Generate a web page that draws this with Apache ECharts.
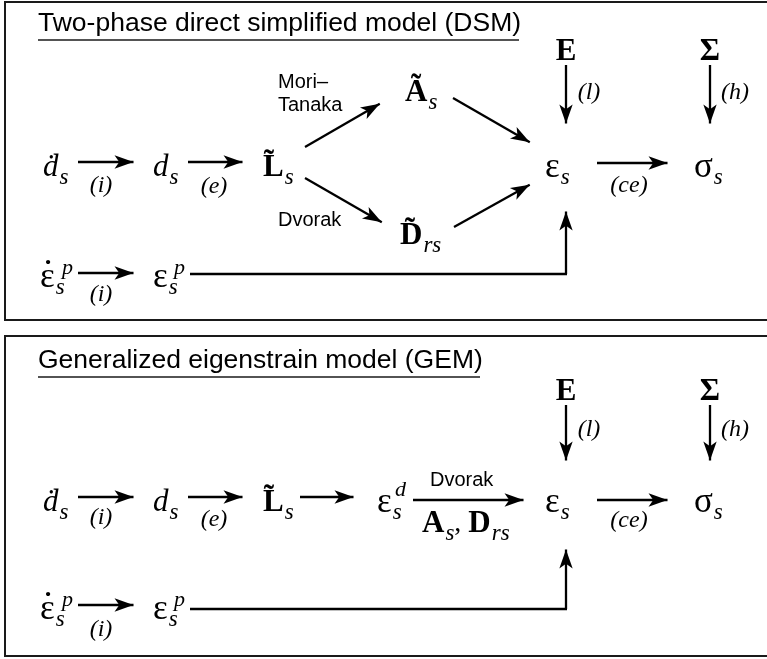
<!DOCTYPE html>
<html><head><meta charset="utf-8">
<script src="https://cdn.jsdelivr.net/npm/echarts@6/dist/echarts.min.js"></script>
<style>html,body{margin:0;padding:0;background:#fff}#c{width:767px;height:659px}</style>
</head><body><div id="c"></div>
<script>
// ---------------- data ----------------
const panelTitles = ['Two-phase direct simplified model (DSM)', 'Generalized eigenstrain model (GEM)'];
const titleX = [38, 38];
const titleY = [24, 361];

// math symbols (left-anchored)
const symText = [
  '{it|ḋ}{sub|s}', '{it|d}{sub|s}', '{bf|L̃}{sub|s}', '{bf|Ã}{sub|s}', '{bf|D̃}{sub|rs}',
  '{gr|ε}{sub|s}', '{gr|σ}{sub|s}', '{gr|ε}{sub|s}', '{gr|ε}{sub|s}',
  '{it|ḋ}{sub|s}', '{it|d}{sub|s}', '{bf|L̃}{sub|s}', '{gr|ε}{sub|s}',
  '{gr|ε}{sub|s}', '{gr|σ}{sub|s}', '{gr|ε}{sub|s}', '{gr|ε}{sub|s}',
  '{bf|A}{sub|s}{rm|, }{bf|D}{sub|rs}'
];
const symX = [43, 153, 263, 405, 400, 545, 694, 40, 153, 43, 153, 263, 377, 545, 694, 40, 153, 422];
const symY = [168, 168, 168, 93, 236, 168, 168, 278, 278, 503, 503, 503, 503, 503, 503, 610, 610, 524];

// superscripts
const supText = ['p', 'p', 'd', 'p', 'p'];
const supX = [62, 174, 395, 62, 174];
const supY = [268, 268, 490, 600, 600];

// time-derivative dots over epsilon
const dotText = ['·', '·'];
const dotX = [48, 48];
const dotY = [263, 595];

// centred bold symbols
const topSymText = ['E', 'Σ', 'E', 'Σ'];
const topSymX = [566, 710, 566, 710];
const topSymY = [52, 52, 392, 392];

// edge labels (centred)
const edgeText = ['(i)', '(e)', '(ce)', '(l)', '(h)', '(i)', '(i)', '(e)', '(ce)', '(l)', '(h)', '(i)'];
const edgeX = [101, 214, 629, 589, 735, 101, 101, 214, 629, 589, 735, 101];
const edgeY = [186, 187, 186, 93, 93, 295, 518, 520, 521, 430, 430, 630];

// method names (left-anchored, sans)
const methodText = ['Mori–\nTanaka', 'Dvorak', 'Dvorak'];
const methodX = [278, 278, 430];
const methodY = [94, 220, 480];

// arrows: [from, tip]
const arrows = [
  [[78,162],[143,162]], [[188,162],[252,162]], [[305,147],[388,99]], [[305,178],[390,227]],
  [[453,98],[538,147]], [[454,227],[538,180]], [[597,163],[677,163]], [[566,65],[566,133]],
  [[710,65],[710,133]], [[78,273],[143,273]], [[566,274],[566,202]],
  [[78,497],[143,497]], [[188,497],[252,497]], [[300,497],[363,497]], [[413,500],[533,500]],
  [[597,500],[677,500]], [[566,405],[566,470]], [[710,405],[710,470]], [[78,605],[143,605]],
  [[566,609],[566,540]]
];
// plain connector lines
const connectors = [
  [[190,274],[567,274]], [[190,609],[567,609]]
];
// frames and underlines
const frames = [
  [[770,2],[5,2],[5,320],[770,320]],
  [[770,336],[5,336],[5,656],[770,656]]
];
const underlines = [
  [[38,40],[519,40]], [[38,377],[480,377]]
];

// ---------------- styles ----------------
const serif = "'Liberation Serif','DejaVu Serif','Times New Roman',serif";
const sans = "'Liberation Sans',Arial,Helvetica,sans-serif";
const ink = '#000';
const rich = {
  it: {fontFamily: serif, fontStyle: 'italic', fontSize: 31, color: ink},
  gr: {fontFamily: serif, fontSize: 35, color: ink},
  bf: {fontFamily: serif, fontWeight: 'bold', fontSize: 31, color: ink},
  rm: {fontFamily: serif, fontSize: 28, color: ink},
  sub: {fontFamily: serif, fontStyle: 'italic', fontSize: 23, padding: [20, 0, 0, 1], color: ink}
};
const HEAD = [10, 19];

function pullBack(a, b, d) {
  const dx = b[0] - a[0], dy = b[1] - a[1];
  const L = Math.sqrt(dx * dx + dy * dy);
  return [b[0] - dx / L * d, b[1] - dy / L * d];
}

function labelSeries(texts, xs, ys, align, labelStyle) {
  return {
    type: 'scatter', symbolSize: 0, silent: true, z: 10, animation: false,
    itemStyle: {color: 'transparent', opacity: 1},
    data: texts.map((t, i) => ({value: [xs[i], ys[i]], label: {formatter: t}})),
    label: Object.assign({show: true, position: 'inside', align: align, verticalAlign: 'middle',
      color: ink, opacity: 1, textBorderWidth: 0}, labelStyle)
  };
}

const chart = echarts.init(document.getElementById('c'), null, {renderer: 'canvas'});
chart.setOption({
  backgroundColor: '#fff',
  animation: false,
  grid: {left: 0, right: 0, top: 0, bottom: 0},
  xAxis: {type: 'value', min: 0, max: 767, show: false},
  yAxis: {type: 'value', min: 0, max: 659, inverse: true, show: false},
  series: [
    {type: 'lines', coordinateSystem: 'cartesian2d', polyline: true, silent: true, z: 2,
     data: frames.map(c => ({coords: c})), lineStyle: {color: '#1a1a1a', width: 2, opacity: 1}},
    {type: 'lines', coordinateSystem: 'cartesian2d', polyline: true, silent: true, z: 2,
     data: underlines.map(c => ({coords: c})), lineStyle: {color: '#1a1a1a', width: 1.6, opacity: 1}},
    {type: 'lines', coordinateSystem: 'cartesian2d', polyline: true, silent: true, z: 3,
     data: connectors.map(c => ({coords: c})), lineStyle: {color: ink, width: 2.3, opacity: 1}},
    {type: 'lines', coordinateSystem: 'cartesian2d', silent: true, z: 4,
     symbol: ['none', 'arrow'], symbolSize: [0, HEAD],
     itemStyle: {color: ink, opacity: 1},
     data: arrows.map(a => ({coords: [a[0], pullBack(a[0], a[1], HEAD[1] / 2)]})),
     lineStyle: {color: ink, width: 2.3, opacity: 1, curveness: 0}},
    labelSeries(panelTitles, titleX, titleY, 'left', {fontFamily: sans, fontSize: 26.5}),
    labelSeries(symText, symX, symY, 'left', {rich: rich}),
    labelSeries(supText, supX, supY, 'left', {fontFamily: serif, fontStyle: 'italic', fontSize: 22}),
    labelSeries(dotText, dotX, dotY, 'center', {fontFamily: serif, fontWeight: 'bold', fontSize: 26}),
    labelSeries(topSymText, topSymX, topSymY, 'center', {fontFamily: serif, fontWeight: 'bold', fontSize: 31}),
    labelSeries(edgeText, edgeX, edgeY, 'center', {fontFamily: serif, fontStyle: 'italic', fontSize: 24}),
    labelSeries(methodText, methodX, methodY, 'left', {fontFamily: sans, fontSize: 20, lineHeight: 23})
  ]
});
</script></body></html>
